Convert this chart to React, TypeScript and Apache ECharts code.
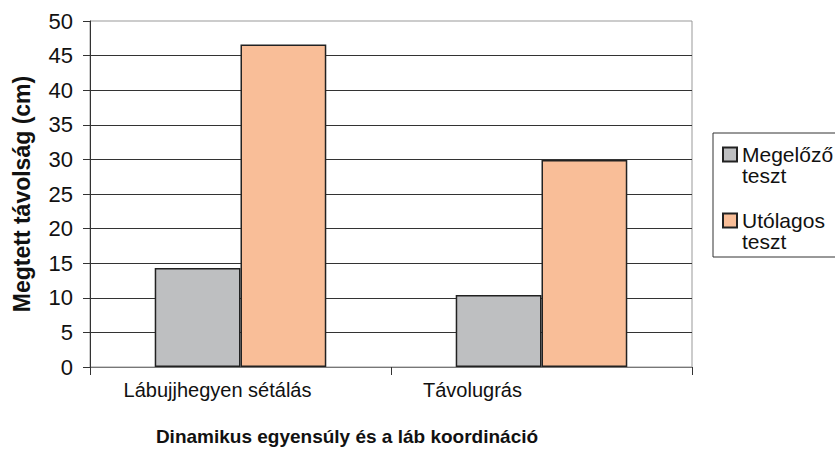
import React, { useEffect, useRef } from "react";
import * as echarts from "echarts";

const categories = ["Lábujjhegyen sétálás", "Távolugrás"];
const seriesNames = ["Megelőző\nteszt", "Utólagos\nteszt"];
const beforeValues = [14.3, 10.4];
const afterValues = [46.6, 29.9];
const yTicks = { min: 0, max: 50, interval: 5 };
const xAxisTitle = "Dinamikus egyensúly és a láb koordináció";
const yAxisTitle = "Megtett távolság (cm)";
const colors = ["#BEBFC1", "#F9BE98"];

const FONT = "'Liberation Sans', Arial, sans-serif";
const legendIcon = "path://M0,0L14,0L14,14L0,14Z M0,35";

export default function App() {
  const ref = useRef<HTMLDivElement>(null);
  useEffect(() => {
    if (!ref.current) return;
    const chart = echarts.init(ref.current, null, { renderer: "svg" });
    chart.setOption({
      animation: false,
      backgroundColor: "#fff",
      textStyle: { fontFamily: FONT },
      grid: {
        left: 90,
        top: 21,
        right: 143,
        bottom: 89,
        containLabel: false,
        outerBoundsMode: "none",
        show: true,
        borderColor: "#999",
        borderWidth: 1,
        backgroundColor: "transparent",
      },
      legend: {
        orient: "vertical",
        left: 722,
        top: 144,
        padding: 0,
        itemWidth: 14,
        itemHeight: 35,
        itemGap: 24,
        icon: legendIcon,
        textStyle: { fontFamily: FONT, fontSize: 21, lineHeight: 21, color: "#111" },
        data: seriesNames,
      },
      graphic: [
        {
          type: "rect",
          shape: { x: 713, y: 133, width: 125, height: 124 },
          style: { fill: "none", stroke: "#333", lineWidth: 1 },
          silent: true,
        },
      ],
      xAxis: {
        type: "category",
        data: categories,
        name: xAxisTitle,
        nameLocation: "middle",
        nameGap: 60,
        nameTextStyle: {
          fontFamily: FONT,
          fontSize: 19,
          fontWeight: "bold",
          color: "#111",
          padding: [0, 88, 0, 0],
        },
        axisLine: { lineStyle: { color: "#777", width: 1 } },
        axisTick: { show: true, length: 8, lineStyle: { color: "#333" } },
        axisLabel: {
          margin: 13,
          fontSize: 20,
          color: "#111",
          fontFamily: FONT,
          formatter: (v: string, i: number) => (i === 0 ? `{a|${v}}` : `{b|${v}}`),
          rich: {
            a: { fontSize: 20, fontFamily: FONT, color: "#111", padding: [0, 46, 0, 0] },
            b: { fontSize: 20, fontFamily: FONT, color: "#111", padding: [0, 138, 0, 0] },
          },
        },
      },
      yAxis: {
        type: "value",
        min: yTicks.min,
        max: yTicks.max,
        interval: yTicks.interval,
        name: yAxisTitle,
        nameLocation: "middle",
        nameGap: 57,
        nameTextStyle: { fontFamily: FONT, fontSize: 23, fontWeight: "bold", color: "#111" },
        axisLine: { show: true, lineStyle: { color: "#333", width: 1 } },
        axisTick: { show: true, length: 7, lineStyle: { color: "#333" } },
        axisLabel: { margin: 17, fontSize: 22, color: "#111", fontFamily: FONT },
        splitLine: { show: true, showMaxLine: false, lineStyle: { color: "#333", width: 1 } },
      },
      series: [
        {
          name: seriesNames[0],
          type: "bar",
          data: beforeValues,
          barGap: "0%",
          barCategoryGap: "43%",
          itemStyle: { color: colors[0], borderColor: "#222", borderWidth: 1.5 },
        },
        {
          name: seriesNames[1],
          type: "bar",
          data: afterValues,
          barGap: "0%",
          barCategoryGap: "43%",
          itemStyle: { color: colors[1], borderColor: "#222", borderWidth: 1.5 },
        },
      ],
    });
    return () => chart.dispose();
  }, []);
  return <div ref={ref} style={{ width: 835, height: 456, position: "absolute", left: 0, top: 0 }} />;
}
